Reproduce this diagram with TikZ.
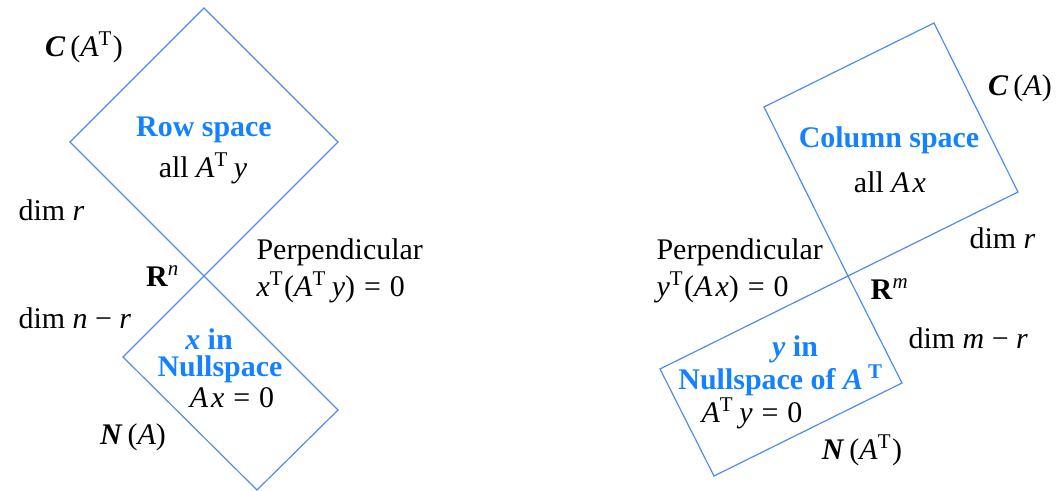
\documentclass[tikz,border=0pt]{standalone}
\usepackage{fontspec}
\setmainfont{Liberation Serif}
\usepackage{xcolor}
\usepackage{tikz}
\usetikzlibrary{positioning,calc}

\definecolor{spaceblue}{RGB}{20,130,255}
\definecolor{edgeblue}{RGB}{80,140,235}
\newcommand{\vi}[1]{\textit{#1}}
\newcommand{\vb}[1]{\textbf{\textit{#1}}}
\newcommand{\tp}{\textsuperscript{T}}
\newcommand{\eqz}{\hspace{0.3em}=\hspace{0.3em}0}
\newcommand{\ax}{\vi{A}\kern0.1em\vi{x}}

\begin{document}
\begin{tikzpicture}[
  x=0.334pt, y=-0.334pt,
  space/.style={draw=edgeblue, line width=0.4pt, line join=miter},
  title/.style={font=\bfseries, text=spaceblue, inner sep=0pt},
  lbl/.style={inner sep=1pt},
  side/.style={inner sep=1pt, anchor=west, align=left}
]
  \useasboundingbox (0,0) rectangle (1056,491);
  % left: row space and nullspace
  \coordinate (Rn) at (204,276);
  \coordinate (rowL) at (70,142);
  \coordinate (rowT) at (204,8);
  \coordinate (rowR) at (338,142);
  \coordinate (nulR) at (338,410);
  \coordinate (nulB) at (257,490);
  \coordinate (nulL) at (123,357);
  \draw[space] (Rn) -- (rowL) -- (rowT) -- (rowR) -- cycle;
  \draw[space] (Rn) -- (nulR) -- (nulB) -- (nulL) -- cycle;
  \node[lbl] (cat) at (84,47) {\vb{C}\,(\vi{A}\tp)};
  \node[title] (row) at (204,130) {Row space};
  \node[lbl] (allaty) at (203,168) {all \vi{A}\tp\,\vi{y}};
  \node[side] (dimr) at (15,210) {dim \vi{r}};
  \node[side] (perpL) at (253,252) {Perpendicular};
  \node[side] (eqL) at (253,287) {\vi{x}\tp(\vi{A}\tp\,\vi{y})\eqz};
  \node[lbl] (rn) at (163,276) {\textbf{R}\textsuperscript{\vi{n}}};
  \node[side] (dimnr) at (15,318) {dim \vi{n} − \vi{r}};
  \node[title] (xin) at (209,339) {\vi{x} in};
  \node[title] (nul) at (220,369) {Nullspace};
  \node[lbl] (axz) at (232,398) {\ax\eqz};
  \node[lbl] (na) at (133,437) {\vb{N}\,(\vi{A})};
  % right: column space and left nullspace
  \coordinate (Rm) at (848,276);
  \coordinate (colL) at (764,107);
  \coordinate (colT) at (934,23);
  \coordinate (colR) at (1018,192);
  \coordinate (lnuR) at (902,383);
  \coordinate (lnuB) at (714,476);
  \coordinate (lnuL) at (660,369);
  \draw[space] (Rm) -- (colL) -- (colT) -- (colR) -- cycle;
  \draw[space] (Rm) -- (lnuR) -- (lnuB) -- (lnuL) -- cycle;
  \node[lbl] (ca) at (1020,88) {\vb{C}\,(\vi{A})};
  \node[title] (col) at (889,140) {Column space};
  \node[lbl] (allax) at (890,182) {all \ax};
  \node[side] (dimr2) at (966,238) {dim \vi{r}};
  \node[side] (perpR) at (653,252) {Perpendicular};
  \node[side] (eqR) at (653,287) {\vi{y}\tp(\ax)\eqz};
  \node[lbl] (rm) at (890,289) {\textbf{R}\textsuperscript{\vi{m}}};
  \node[side] (dimmr) at (905,338) {dim \vi{m} − \vi{r}};
  \node[title] (yin) at (795,349) {\vi{y} in};
  \node[title] (lnul) at (781,380) {Nullspace of \vi{A}\,\textsuperscript{T}};
  \node[lbl] (aty) at (752,413) {\vi{A}\tp\,\vi{y}\eqz};
  \node[lbl] (nat) at (862,450) {\vb{N}\,(\vi{A}\tp)};
\end{tikzpicture}
\end{document}
